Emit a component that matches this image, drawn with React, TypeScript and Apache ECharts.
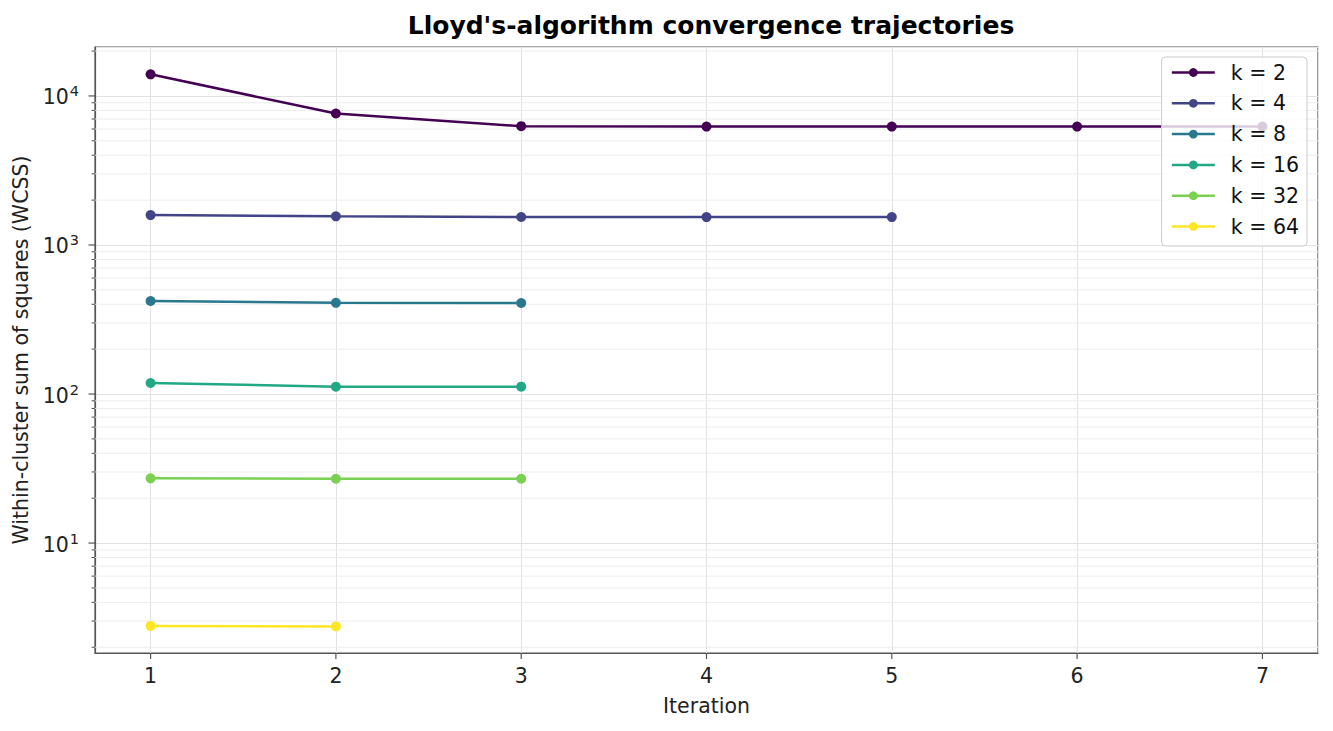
import React, { useEffect, useRef } from 'react';
import * as echarts from 'echarts';

const iterations = [1, 2, 3, 4, 5, 6, 7];
const seriesNames = ['k = 2', 'k = 4', 'k = 8', 'k = 16', 'k = 32', 'k = 64'];
const colors = ['#440154', '#414487', '#2a788e', '#22a884', '#7ad151', '#fde725'];

// WCSS per iteration
const wcssK2 = [13970, 7620, 6270, 6230, 6230, 6230, 6230];
const wcssK4 = [1588, 1556, 1540, 1538, 1538];
const wcssK8 = [421, 409, 408];
const wcssK16 = [118.5, 112, 112];
const wcssK32 = [27.2, 27.0, 27.0];
const wcssK64 = [2.78, 2.76];

const allSeries = [wcssK2, wcssK4, wcssK8, wcssK16, wcssK32, wcssK64];

// y axis: major ticks (labelled) and minor ticks/gridlines of the log axis
const majorTicksY = [10, 100, 1000, 10000];
const minorTicksY = [
    2, 3, 4, 5, 6, 7, 8, 9,
    20, 30, 40, 50, 60, 70, 80, 90,
    200, 300, 400, 500, 600, 700, 800, 900,
    2000, 3000, 4000, 5000, 6000, 7000, 8000, 9000,
    20000
];

const X_MIN = 0.7;
const X_MAX = 7.3;
const Y_MIN = 1.83;
const Y_MAX = 21300;

const FONT = '"DejaVu Sans", sans-serif';
const AXIS_COLOR = '#555';
const TEXT_COLOR = '#222';

// tick marks + minor gridlines: [kind, value]  kind 0 = x major, 1 = y major, 2 = y minor
const tickItems: [number, number][] = [
    ...iterations.map(v => [0, v] as [number, number]),
    ...majorTicksY.map(v => [1, v] as [number, number]),
    ...minorTicksY.map(v => [2, v] as [number, number])
];

const App: React.FC = () => {
    const chartRef = useRef<HTMLDivElement>(null);

    useEffect(() => {
        if (!chartRef.current) return;
        document.body.style.margin = '0';

        const chart = echarts.init(chartRef.current, null, { renderer: 'svg' });

        const lineSeries = allSeries.map((vals, i) => ({
            name: seriesNames[i],
            type: 'line',
            data: vals.map((v, j) => [iterations[j], v]),
            color: colors[i],
            symbol: 'circle',
            symbolSize: 10,
            showAllSymbol: true,
            lineStyle: { width: 2.5, color: colors[i] },
            itemStyle: { color: colors[i] },
            z: 3
        }));

        const option = {
            animation: false,
            textStyle: { fontFamily: FONT },
            title: {
                text: "Lloyd's-algorithm convergence trajectories",
                left: 706,
                top: 8,
                textAlign: 'center',
                textStyle: { fontSize: 25, fontWeight: 'bold', color: '#000', fontFamily: FONT }
            },
            legend: {
                data: seriesNames,
                orient: 'vertical',
                right: 26,
                top: 57,
                padding: [5, 8, 9, 9],
                itemWidth: 43,
                itemHeight: 11,
                itemGap: 9.8,
                backgroundColor: 'rgba(255,255,255,0.8)',
                borderColor: '#cccccc',
                borderWidth: 1,
                borderRadius: 4,
                lineStyle: { width: 2.5 },
                textStyle: {
                    fontSize: 20.5,
                    lineHeight: 20,
                    color: '#111',
                    fontFamily: FONT,
                    padding: [0, 0, 0, 11]
                }
            },
            grid: {
                left: 95,
                right: 15,
                top: 47,
                bottom: 78,
                show: true,
                borderColor: AXIS_COLOR,
                borderWidth: 1.2,
                containLabel: false
            },
            xAxis: {
                type: 'value',
                min: X_MIN,
                max: X_MAX,
                name: 'Iteration',
                nameLocation: 'middle',
                nameGap: 42,
                nameTextStyle: { fontSize: 20.5, color: TEXT_COLOR, fontFamily: FONT },
                axisLine: { show: true, lineStyle: { color: AXIS_COLOR, width: 1.2 } },
                axisTick: { show: false },
                axisLabel: {
                    fontSize: 20.5,
                    color: TEXT_COLOR,
                    margin: 12,
                    formatter: (v: number) => (Math.abs(v - Math.round(v)) < 1e-6 ? String(Math.round(v)) : '')
                },
                splitLine: { show: true, lineStyle: { color: '#e2e2e2', width: 1 } }
            },
            yAxis: {
                type: 'log',
                logBase: 10,
                min: Y_MIN,
                max: Y_MAX,
                name: 'Within-cluster sum of squares (WCSS)',
                nameLocation: 'middle',
                nameGap: 63,
                nameTextStyle: { fontSize: 20.5, color: TEXT_COLOR, fontFamily: FONT },
                axisLine: { show: true, lineStyle: { color: AXIS_COLOR, width: 1.2 } },
                axisTick: { show: false },
                axisLabel: {
                    margin: 16,
                    formatter: (v: number) => {
                        const e = Math.log10(v);
                        if (Math.abs(e - Math.round(e)) > 1e-6) return '';
                        return `{b|10}{s|${Math.round(e)}}`;
                    },
                    rich: {
                        b: { fontSize: 20.5, color: TEXT_COLOR, fontFamily: FONT, verticalAlign: 'bottom' },
                        s: {
                            fontSize: 14.5,
                            color: TEXT_COLOR,
                            fontFamily: FONT,
                            verticalAlign: 'bottom',
                            padding: [0, 0, 9, 1]
                        }
                    }
                },
                splitLine: { show: true, lineStyle: { color: '#e2e2e2', width: 1 } }
            },
            series: [
                {
                    name: 'ticks',
                    type: 'custom',
                    silent: true,
                    clip: false,
                    z: 1,
                    data: tickItems,
                    renderItem: (_params: any, api: any) => {
                        const kind = api.value(0);
                        const v = api.value(1);
                        const stroke = { stroke: AXIS_COLOR, lineWidth: 1.2 };
                        if (kind === 0) {
                            const p = api.coord([v, Y_MIN]);
                            return { type: 'line', shape: { x1: p[0], y1: p[1], x2: p[0], y2: p[1] + 6 }, style: stroke };
                        }
                        const p = api.coord([X_MIN, v]);
                        if (kind === 1) {
                            return { type: 'line', shape: { x1: p[0] - 6.5, y1: p[1], x2: p[0], y2: p[1] }, style: stroke };
                        }
                        const q = api.coord([X_MAX, v]);
                        return {
                            type: 'group',
                            children: [
                                {
                                    type: 'line',
                                    shape: { x1: p[0], y1: p[1], x2: q[0], y2: q[1] },
                                    style: { stroke: '#ececec', lineWidth: 1 }
                                },
                                {
                                    type: 'line',
                                    shape: { x1: p[0] - 3.5, y1: p[1], x2: p[0], y2: p[1] },
                                    style: { stroke: AXIS_COLOR, lineWidth: 1 }
                                }
                            ]
                        };
                    }
                },
                ...lineSeries
            ]
        };

        chart.setOption(option as any);

        return () => {
            chart.dispose();
        };
    }, []);

    return <div ref={chartRef} style={{ width: 1333, height: 731 }} />;
};

export default App;
